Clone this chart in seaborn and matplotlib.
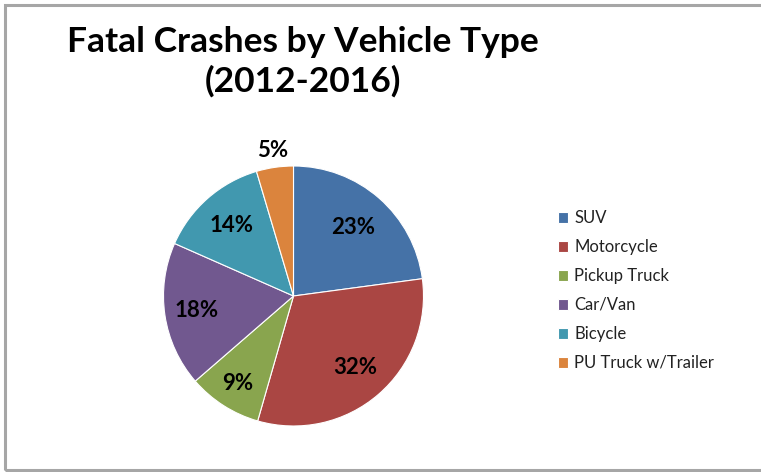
import numpy as np
import matplotlib
matplotlib.use("Agg")
import matplotlib.pyplot as plt
import seaborn as sns
from matplotlib.patches import Rectangle

# ---- data ----
categories = ["SUV", "Motorcycle", "Pickup Truck", "Car/Van", "Bicycle", "PU Truck w/Trailer"]
shares = [22.9, 31.6, 9.2, 18.0, 13.8, 4.6]
colors = ["#4572A7", "#AA4643", "#89A54E", "#71588F", "#4198AF", "#DB843D"]
title_line1 = "Fatal Crashes by Vehicle Type"
title_line2 = "(2012-2016)"

sns.set_theme(style="white")
plt.rcParams["font.family"] = ["Lato", "DejaVu Sans"]

W, H = 761, 472
fig = plt.figure(figsize=(W / 100, H / 100), dpi=100)
fig.patch.set_facecolor("white")

# pie axes: center (293.5, 296) px, radius 130 px
cx, cy, r = 293.5, 296, 130
ax = fig.add_axes([(cx - r) / W, (H - cy - r) / H, 2 * r / W, 2 * r / H])

wedges, texts, autotexts = ax.pie(
    shares, colors=colors, startangle=90, counterclock=False,
    autopct=lambda p: f"{p:.0f}%", pctdistance=0.73,
    wedgeprops=dict(edgecolor="white", linewidth=0.8),
    textprops=dict(fontsize=16, fontweight="bold", color="black"),
)
ax.set_xlim(-1, 1)
ax.set_ylim(-1, 1)
ax.set_aspect("equal")
ax.axis("off")

# label distances per slice (Excel best-fit style)
dists = [0.70, 0.73, 0.80, 0.75, 0.72, 1.13]
for w, t, d in zip(wedges, autotexts, dists):
    ang = np.deg2rad((w.theta1 + w.theta2) / 2)
    t.set_position((d * np.cos(ang), d * np.sin(ang)))
    t.set_ha("center")
    t.set_va("center")

# legend
leg = fig.legend(
    wedges, categories, loc="upper left",
    bbox_to_anchor=(558 / W, 1 - 210 / H), frameon=False,
    fontsize=12, handlelength=0.62, handleheight=0.62, handletextpad=0.35,
    labelspacing=0.78, borderaxespad=0, borderpad=0,
)
for t in leg.get_texts():
    t.set_color("#222222")

# title (two centred lines)
fig.text(303 / W, 1 - 52 / H, title_line1, ha="center", va="baseline", fontsize=25.5,
         fontweight="bold", color="black")
fig.text(303 / W, 1 - 92 / H, title_line2, ha="center", va="baseline", fontsize=25.5,
         fontweight="bold", color="black")

# outer gray frame (right side runs off the image)
frame = Rectangle((4.5 / W, 1 - 469.5 / H), 2.0, (469.5 - 4.5) / H,
                  transform=fig.transFigure, fill=False, edgecolor="#A6A6A6",
                  linewidth=2.2, zorder=10)
fig.patches.append(frame)

fig.savefig("out.png", dpi=100, facecolor="white")
